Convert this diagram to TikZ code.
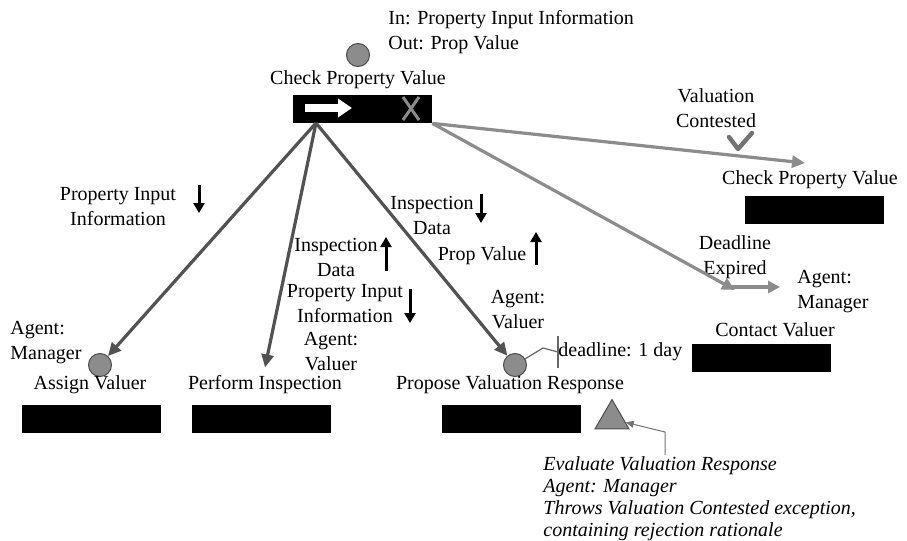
\documentclass[tikz,border=0pt]{standalone}
\usepackage{fontspec}
\setmainfont{Liberation Serif}
\usetikzlibrary{arrows.meta,positioning,shapes.geometric}

\tikzset{
  taskbox/.style={fill=black, minimum width=69.5pt, minimum height=14pt, inner sep=0pt},
  agentdot/.style={circle, fill=black!45, draw=black!70, line width=0.5pt, minimum size=11.5pt, inner sep=0pt},
  txt/.style={align=center, inner sep=0pt, font=\fontsize{10}{12.5}\selectfont},
  flow/.style={draw=black!68, line width=1.6pt, -{Triangle[length=6.5pt,width=6pt]}},
  exflow/.style={draw=black!45, line width=1.6pt, -{Triangle[length=6.5pt,width=6pt]}},
  datadown/.style={black, line width=1.5pt, -{Triangle[length=5pt,width=5.5pt]}},
}

\begin{document}
\begin{tikzpicture}[x=0.5pt,y=-0.5pt]
\useasboundingbox (0,0) rectangle (907,541);

% Top task
\node[txt, anchor=west, align=left] (inout) at (388,32) {In: Property Input Information\\Out: Prop Value};
\node[agentdot] (top) at (358,55) {};
\node[txt] (mainlbl) at (358,80) {Check Property Value};
\node[taskbox] (main) at (362.5,109) {};
\draw[white, line width=4pt, -{Triangle[length=7pt,width=9pt]}] (305,108) -- (352,108);
\draw[black!45, line width=1.5pt] (403,97) -- (419,120) (419,97) -- (403,120);
\coordinate (hub) at (316,123);

% Exception path
\node[txt] (vclbl) at (716,108) {Valuation\\Contested};
\draw[black!55, line width=2.2pt, line cap=round, line join=round] (729,137) -- (738,149) -- (752,133);
\node[txt] (chk2lbl) at (810,180) {Check Property Value};
\node[taskbox] (chk2) at (814.5,210) {};
\coordinate (chkin) at (805,163);

% Deadline path
\node[txt] (de) at (735,257) {Deadline\\Expired};
\draw[black!45, line width=1.6pt, -{Triangle[length=6pt,width=6pt]}] (727,287) -- (780,287);
\node[txt, anchor=west, align=left] (agm2) at (797,292) {Agent:\\Manager};
\node[txt] (contlbl) at (775,330) {Contact Valuer};
\node[taskbox] (cont) at (761,358) {};
\coordinate (contin) at (735,290);

% Data labels
\node[txt] (pii1) at (118,207) {Property Input\\Information};
\draw[datadown] (199,185) -- (199,213);
\node[txt] (insp1) at (336,257) {Inspection\\Data};
\draw[datadown] (386,271) -- (386,237);
\node[txt] (pii2) at (345,304) {Property Input\\Information};
\draw[datadown] (410,289) -- (410,323);
\node[txt] (agv1) at (331,352) {Agent:\\Valuer};
\node[txt] (insp2) at (432,215) {Inspection\\Data};
\draw[datadown] (481,194) -- (481,223);
\node[txt] (pv) at (482,256) {Prop Value};
\draw[datadown] (536,265) -- (536,232);
\node[txt] (agv2) at (518,310) {Agent:\\Valuer};

% Bottom tasks
\node[txt, anchor=west, align=left] (agm1) at (10,343) {Agent:\\Manager};
\node[agentdot] (asg) at (100,365) {};
\node[txt] (asglbl) at (90,385) {Assign Valuer};
\node[taskbox] (asgbox) at (91,419) {};

\node[txt] (perflbl) at (265,385) {Perform Inspection};
\node[taskbox] (perf) at (261,419) {};

\node[agentdot] (prop) at (515,365) {};
\node[txt, anchor=west] (dl) at (558,352) {deadline: 1 day};
\draw[black!60, line width=0.6pt] (prop) -- (543,348) -- (dl.west);
\draw[black!60, line width=0.6pt] ([yshift=8pt]dl.west) -- ([yshift=-8pt]dl.west);
\node[txt] (proplbl) at (510,385) {Propose Valuation Response};
\node[taskbox] (propbox) at (511.5,419) {};

% Evaluation
\node[regular polygon, regular polygon sides=3, minimum size=19.5pt, inner sep=0pt,
      fill=black!45, draw=black!70, line width=0.5pt] (tri) at (612,419) {};
\node[txt, anchor=west, align=left, font=\fontsize{10}{11}\selectfont\itshape] (note) at (543,499)
  {Evaluate Valuation Response\\Agent: Manager\\Throws Valuation Contested exception,\\containing rejection rationale};
\coordinate (notetop) at (665,455);
\draw[black!55, line width=0.5pt, -{Triangle[length=4pt,width=3.5pt]}] (notetop) -- (665,432) -- (tri);

% Connectors
\draw[flow] (hub) -- (asg);
\draw[flow] (hub) -- ([yshift=4pt]perflbl.north);
\draw[flow] (hub) -- (prop);
\draw[exflow] (main.south east) -- (chkin);
\draw[exflow] (main.south east) -- (contin);

\end{tikzpicture}
\end{document}
